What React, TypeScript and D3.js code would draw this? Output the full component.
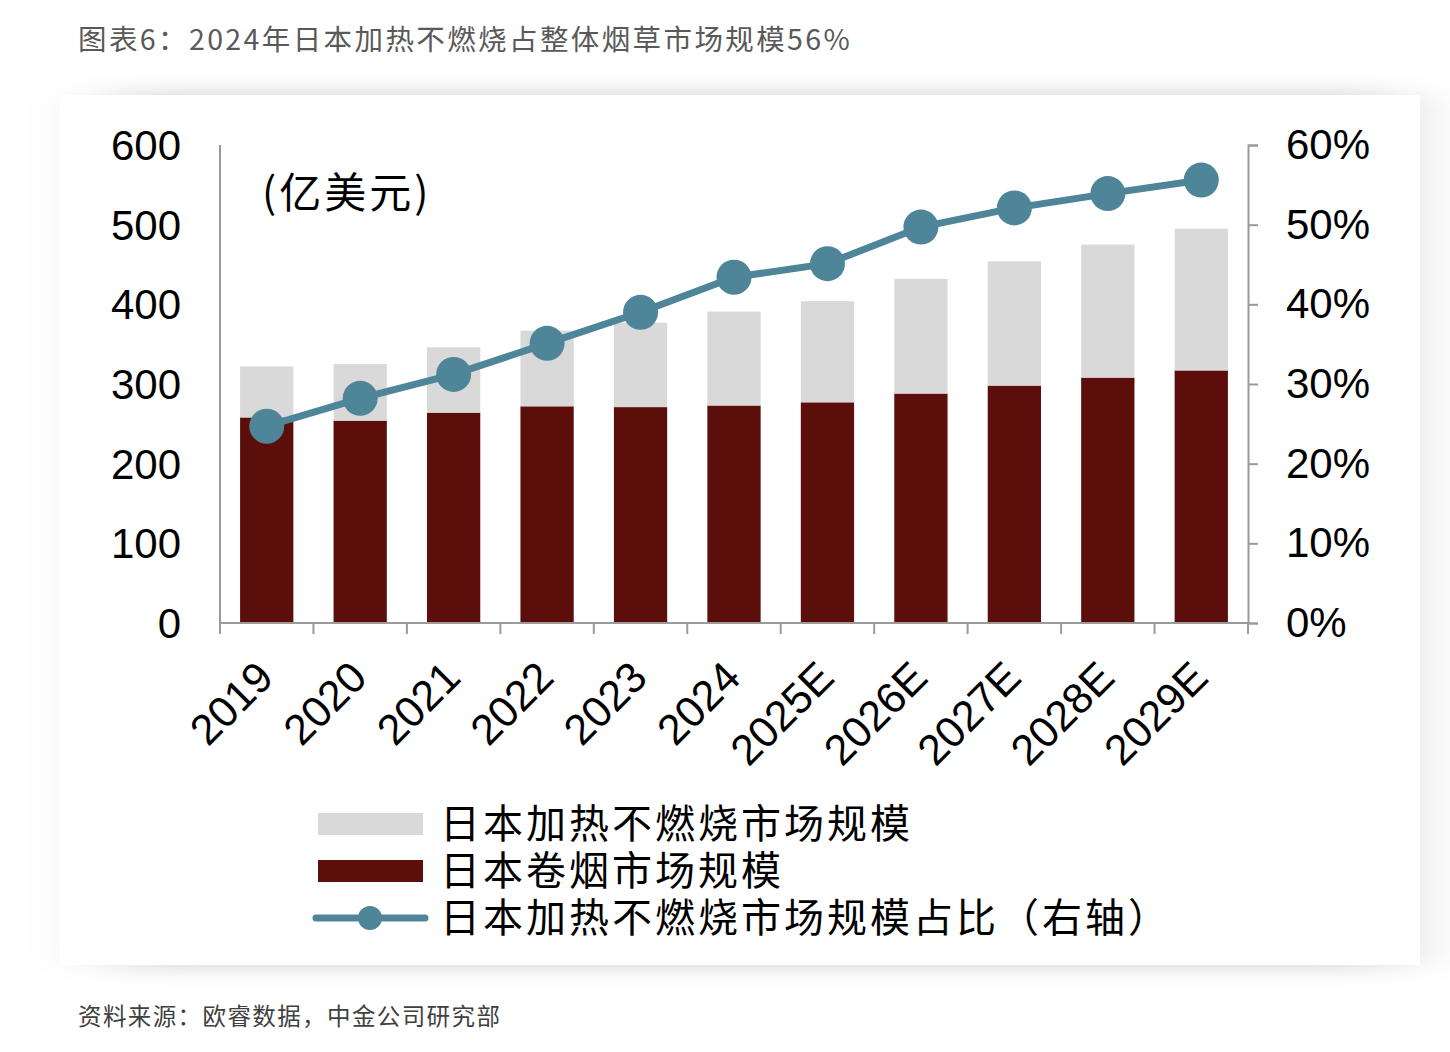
import React, { useEffect, useRef } from "react";
import * as d3 from "d3";

// Data
const years = ["2019", "2020", "2021", "2022", "2023", "2024", "2025E", "2026E", "2027E", "2028E", "2029E"];
const cigaretteMarket = [258, 254, 264, 272, 271, 273, 277, 288, 298, 308, 317];
const heatedMarket = [64, 71, 82, 95, 106, 118, 127, 144, 156, 167, 178];
const heatedShare = [24.7, 28.2, 31.2, 35.1, 39.0, 43.4, 45.1, 49.7, 52.1, 53.9, 55.6];
const leftTicks = [0, 100, 200, 300, 400, 500, 600];
const rightTicks = [0, 10, 20, 30, 40, 50, 60];
const legendLabels = ["日本加热不燃烧市场规模", "日本卷烟市场规模", "日本加热不燃烧市场规模占比（右轴）"];

const DARK = "#5B0E0A";
const GRAY = "#D9D9D9";
const TEAL = "#4E8598";
const AXIS = "#9A9A9A";
const LATIN = "'Liberation Sans', Arial, sans-serif";
const CJK = "'Noto Sans CJK SC', 'Noto Sans', sans-serif";

const App: React.FC = () => {
  const ref = useRef<SVGSVGElement>(null);

  useEffect(() => {
    document.body.style.margin = "0";
    if (!ref.current) return;
    const svg = d3.select(ref.current);
    svg.selectAll("*").remove();

    const W = 1450;
    const H = 1052;
    const plot = { left: 220, right: 1248, top: 145, bottom: 623 };

    // background panel with soft shadow (mostly top / bottom)
    const defs = svg.append("defs");
    const f = defs.append("filter").attr("id", "shadow")
      .attr("x", "-10%").attr("y", "-15%").attr("width", "120%").attr("height", "130%");
    f.append("feGaussianBlur").attr("in", "SourceAlpha").attr("stdDeviation", "40 11").attr("result", "blur");
    f.append("feFlood").attr("flood-color", "#000").attr("flood-opacity", 0.2).attr("result", "col");
    f.append("feComposite").attr("in", "col").attr("in2", "blur").attr("operator", "in").attr("result", "sh");
    const merge = f.append("feMerge");
    merge.append("feMergeNode").attr("in", "sh");
    merge.append("feMergeNode").attr("in", "SourceGraphic");

    svg.append("rect").attr("width", W).attr("height", H).attr("fill", "#fff");
    svg.append("rect")
      .attr("x", 110).attr("y", 95).attr("width", 1290).attr("height", 870)
      .attr("fill", "#fff").attr("filter", "url(#shadow)");
    // cover side edges so the panel blends in horizontally
    svg.append("rect").attr("x", 60).attr("y", 95).attr("width", 1360).attr("height", 870).attr("fill", "#fff");

    // Title & source
    svg.append("text")
      .attr("x", 78).attr("y", 50)
      .style("font-family", CJK).style("font-size", "28.5px").style("letter-spacing", "2.4px").style("fill", "#595959")
      .text("图表6：2024年日本加热不燃烧占整体烟草市场规模56%");
    svg.append("text")
      .attr("x", 78).attr("y", 1025)
      .style("font-family", CJK).style("font-size", "23.5px").style("letter-spacing", "1.4px").style("fill", "#404040")
      .text("资料来源：欧睿数据，中金公司研究部");

    // Scales
    const x = d3.scaleBand<string>().domain(years).range([plot.left, plot.right]).paddingInner(0.43).paddingOuter(0.215);
    const xOuter = d3.scaleBand<string>().domain(years).range([plot.left, plot.right]);
    const y = d3.scaleLinear().domain([0, 600]).range([plot.bottom, plot.top]);
    const y2 = d3.scaleLinear().domain([0, 60]).range([plot.bottom, plot.top]);

    const rows = years.map((yr, i) => ({ year: yr, cig: cigaretteMarket[i], hnb: heatedMarket[i] }));
    const stack = d3.stack<typeof rows[number]>().keys(["cig", "hnb"]);
    const series = stack(rows);
    const colors = [DARK, GRAY];

    series.forEach((s, si) => {
      svg.append("g")
        .selectAll("rect")
        .data(s)
        .enter()
        .append("rect")
        .attr("x", (d) => x(d.data.year) || 0)
        .attr("y", (d) => y(d[1]))
        .attr("width", x.bandwidth())
        .attr("height", (d) => y(d[0]) - y(d[1]))
        .attr("fill", colors[si]);
    });

    // Left axis (line only)
    svg.append("line")
      .attr("x1", plot.left).attr("x2", plot.left).attr("y1", plot.top).attr("y2", plot.bottom)
      .attr("stroke", AXIS).attr("stroke-width", 2);
    svg.append("g")
      .selectAll("text")
      .data(leftTicks)
      .enter()
      .append("text")
      .attr("x", 181)
      .attr("y", (d) => y(d))
      .attr("dy", "0.36em")
      .attr("text-anchor", "end")
      .style("font-family", LATIN).style("font-size", "42px").style("fill", "#000")
      .text((d) => String(d));

    // Right axis
    const right = svg.append("g").attr("transform", `translate(${plot.right},0)`)
      .call(d3.axisRight(y2).tickValues(rightTicks).tickSize(10).tickFormat((d) => `${d}%`));
    right.select(".domain").attr("stroke", AXIS).attr("stroke-width", 2);
    right.selectAll(".tick line").attr("stroke", AXIS).attr("stroke-width", 2);
    right.selectAll(".tick text")
      .attr("x", 38)
      .style("font-family", LATIN).style("font-size", "42px").style("fill", "#000");

    // Bottom axis
    svg.append("line")
      .attr("x1", plot.left).attr("x2", plot.right).attr("y1", plot.bottom).attr("y2", plot.bottom)
      .attr("stroke", AXIS).attr("stroke-width", 2);
    const bounds = years.map((yr) => xOuter(yr) || 0).concat([plot.right]);
    svg.append("g")
      .selectAll("line")
      .data(bounds)
      .enter()
      .append("line")
      .attr("x1", (d) => d).attr("x2", (d) => d)
      .attr("y1", plot.bottom).attr("y2", plot.bottom + 11)
      .attr("stroke", AXIS).attr("stroke-width", 2);
    svg.append("g")
      .selectAll("text")
      .data(years)
      .enter()
      .append("text")
      .attr("transform", (d) => `translate(${(x(d) || 0) + x.bandwidth() / 2 - 2},${plot.bottom + 46}) rotate(-45)`)
      .attr("text-anchor", "end")
      .attr("dy", "0.36em")
      .style("font-family", LATIN).style("font-size", "43px").style("fill", "#000")
      .text((d) => d);

    // Unit label
    svg.append("text")
      .attr("x", 262).attr("y", 208)
      .style("font-family", CJK).style("font-size", "42px").style("letter-spacing", "3px").style("fill", "#000")
      .text("(亿美元)");

    // Share line
    const cx = (yr: string) => (x(yr) || 0) + x.bandwidth() / 2;
    const line = d3.line<number>().x((_, i) => cx(years[i])).y((d) => y2(d));
    svg.append("path")
      .datum(heatedShare)
      .attr("d", line)
      .attr("fill", "none")
      .attr("stroke", TEAL)
      .attr("stroke-width", 7);
    svg.append("g")
      .selectAll("circle")
      .data(heatedShare)
      .enter()
      .append("circle")
      .attr("cx", (_, i) => cx(years[i]))
      .attr("cy", (d) => y2(d))
      .attr("r", 17.5)
      .attr("fill", TEAL);

    // Legend
    const lg = svg.append("g");
    lg.append("rect").attr("x", 318).attr("y", 813).attr("width", 105).attr("height", 22).attr("fill", GRAY);
    lg.append("rect").attr("x", 318).attr("y", 860).attr("width", 105).attr("height", 22).attr("fill", DARK);
    lg.append("line").attr("x1", 316).attr("x2", 425).attr("y1", 918).attr("y2", 918)
      .attr("stroke", TEAL).attr("stroke-width", 7).attr("stroke-linecap", "round");
    lg.append("circle").attr("cx", 370).attr("cy", 918).attr("r", 12).attr("fill", TEAL);
    lg.selectAll("text")
      .data(legendLabels)
      .enter()
      .append("text")
      .attr("x", 440)
      .attr("y", (_, i) => [824, 871, 918][i])
      .attr("dy", "0.36em")
      .style("font-family", CJK).style("font-size", "40px").style("letter-spacing", "3px").style("fill", "#000")
      .text((d) => d);
  }, []);

  return <svg ref={ref} width={1450} height={1052} style={{ display: "block" }} />;
};

export default App;
